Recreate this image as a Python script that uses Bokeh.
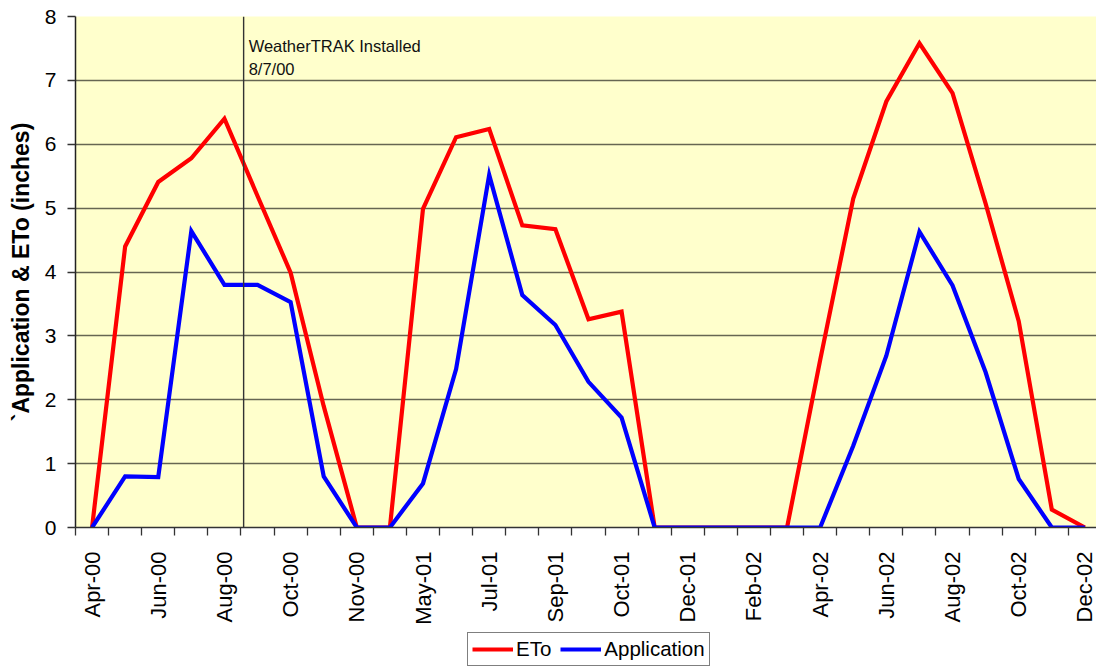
import math
from bokeh.plotting import figure
from bokeh.layouts import column
from bokeh.models import (Range1d, FixedTicker, Span, Label, Legend, LegendItem,
                          ColumnDataSource)
from bokeh.embed import file_html
from bokeh.resources import INLINE

# ---- data -------------------------------------------------------------
months = ["Apr-00", "May-00", "Jun-00", "Jul-00", "Aug-00", "Sep-00", "Oct-00",
          "Oct-00", "Nov-00", "Apr-01", "May-01", "Jun-01", "Jul-01", "Aug-01",
          "Sep-01", "Sep-01", "Oct-01", "Nov-01", "Dec-01", "Jan-02", "Feb-02",
          "Mar-02", "Apr-02", "May-02", "Jun-02", "Jul-02", "Aug-02", "Sep-02",
          "Oct-02", "Nov-02", "Dec-02"]
eto = [0, 4.40, 5.41, 5.78, 6.40, 5.19, 3.99, 1.90, 0, 0,
       4.99, 6.11, 6.24, 4.73, 4.67, 3.26, 3.38, 0,
       0, 0, 0, 0, 2.62, 5.15, 6.67, 7.58, 6.80, 5.07, 3.23, 0.28, 0]
application = [0, 0.80, 0.79, 4.64, 3.80, 3.80, 3.53, 0.80, 0, 0,
               0.69, 2.48, 5.52, 3.64, 3.17, 2.28, 1.72, 0,
               0, 0, 0, 0, 0, 1.28, 2.69, 4.63, 3.79, 2.43, 0.76, 0, 0]
y_ticks = [0, 1, 2, 3, 4, 5, 6, 7, 8]
install_pos = 4.58          # WeatherTRAK installation, 8/7/00
install_text = ["WeatherTRAK Installed", "8/7/00"]
series_names = ["ETo", "Application"]
series_colors = ["#FF0000", "#0000FF"]

FONT = "Liberation Sans"
idx = list(range(len(months)))
src = ColumnDataSource(dict(x=idx, eto=eto, app=application))

p = figure(width=1096, height=630, output_backend="svg", toolbar_location=None,
           x_range=Range1d(-0.5, len(months) - 0.65), y_range=Range1d(0, 8),
           min_border_left=75, min_border_right=0, min_border_top=16,
           min_border_bottom=103)
p.background_fill_color = "#FFFFCC"
p.border_fill_color = "white"
p.outline_line_color = None

# grid
p.xgrid.visible = False
p.ygrid.ticker = FixedTicker(ticks=y_ticks)
p.ygrid.grid_line_color = "black"
p.ygrid.grid_line_alpha = 0.6
p.ygrid.grid_line_width = 1.3

# x axis: labels at every other category, tick marks at category borders
shown = idx[::2]
p.xaxis.ticker = FixedTicker(ticks=shown, minor_ticks=[i - 0.5 for i in idx])
p.xaxis.major_label_overrides = {i: months[i] for i in shown}
p.xaxis.major_label_orientation = math.pi / 2
p.xaxis.major_tick_out = 0
p.xaxis.major_tick_in = 0
p.xaxis.minor_tick_out = 8
p.xaxis.minor_tick_in = 0
p.xaxis.minor_tick_line_color = "#333333"
p.xaxis.minor_tick_line_width = 1.3
p.xaxis.axis_line_color = "#333333"
p.xaxis.axis_line_width = 1.5
p.xaxis.major_label_text_font = FONT
p.xaxis.major_label_text_font_size = "22px"
p.xaxis.major_label_text_color = "black"
p.xaxis.major_label_standoff = 16

# y axis
p.yaxis.ticker = FixedTicker(ticks=y_ticks)
p.yaxis.minor_tick_line_color = None
p.yaxis.major_tick_out = 8
p.yaxis.major_tick_in = 0
p.yaxis.major_tick_line_color = "#333333"
p.yaxis.major_tick_line_width = 1.3
p.yaxis.axis_line_color = "#222222"
p.yaxis.axis_line_width = 1.5
p.yaxis.major_label_text_font = FONT
p.yaxis.major_label_text_font_size = "21px"
p.yaxis.major_label_text_color = "black"
p.yaxis.major_label_standoff = 11
p.yaxis.axis_label = "`Application & ETo (inches)"
p.yaxis.axis_label_text_font = FONT
p.yaxis.axis_label_text_font_size = "23px"
p.yaxis.axis_label_text_font_style = "bold"
p.yaxis.axis_label_text_color = "black"
p.yaxis.axis_label_standoff = 8

# installation marker
p.add_layout(Span(location=install_pos, dimension="height",
                  line_color="#333333", line_width=1.4))
p.add_layout(Label(x=install_pos, y=7.545, x_offset=5, text=install_text[0],
                   text_font=FONT, text_font_size="16.5px", text_color="#111111",
                   text_baseline="alphabetic"))
p.add_layout(Label(x=install_pos, y=7.18, x_offset=5, text=install_text[1],
                   text_font=FONT, text_font_size="16.5px", text_color="#111111",
                   text_baseline="alphabetic"))

# series (ETo first, Application drawn over it)
p.line("x", "eto", source=src, line_color=series_colors[0], line_width=4.2,
       line_join="miter")
p.line("x", "app", source=src, line_color=series_colors[1], line_width=4.2,
       line_join="miter")

# legend strip below the chart
nan = float("nan")
lg = figure(width=1096, height=38, output_backend="svg", toolbar_location=None,
            x_range=Range1d(0, 1), y_range=Range1d(0, 1),
            min_border_left=0, min_border_right=0, min_border_top=0,
            min_border_bottom=0)
lg.axis.visible = False
lg.grid.visible = False
lg.outline_line_color = None
lg.background_fill_color = "white"
key_lines = [lg.line(x=[nan, nan], y=[nan, nan], line_color=c, line_width=4)
             for c in series_colors]
legend = Legend(items=[LegendItem(label=n, renderers=[r])
                       for n, r in zip(series_names, key_lines)],
                orientation="horizontal", location=(392, 2),
                label_text_font=FONT, label_text_font_size="20.5px",
                label_text_color="black", glyph_width=41, glyph_height=18,
                label_standoff=3, spacing=9, padding=4, margin=0,
                border_line_color="black", border_line_width=1.2,
                label_height=18, background_fill_color="white",
                background_fill_alpha=1.0)
lg.add_layout(legend)

layout = column(p, lg, spacing=0)
open("out.html", "w").write(file_html(layout, INLINE))
